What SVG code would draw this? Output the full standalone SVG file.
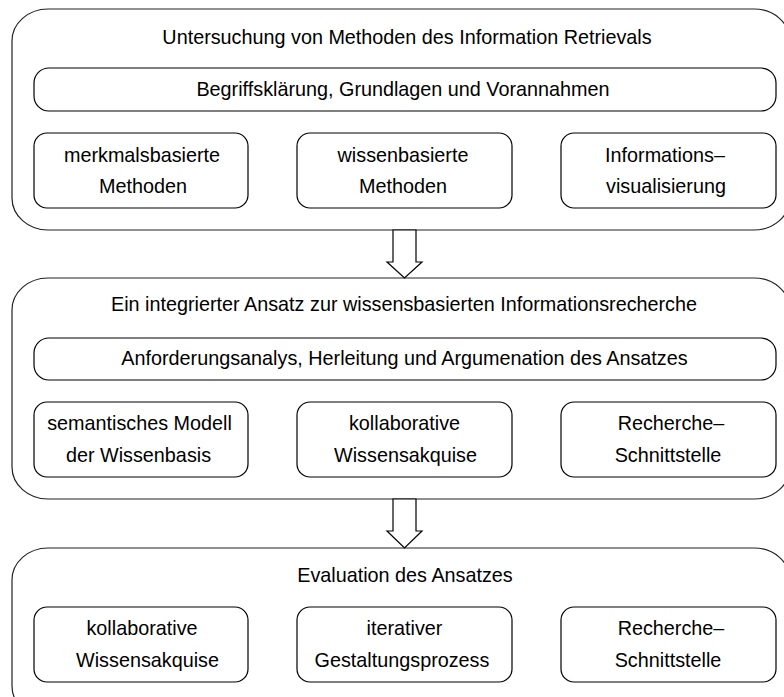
<svg xmlns="http://www.w3.org/2000/svg" width="784" height="697" viewBox="0 0 784 697">
  <style>
    .outer { fill: none; stroke: #222; stroke-width: 1.2; }
    .box { fill: none; stroke: #000; stroke-width: 1.2; }
    .arrow { fill: #fff; stroke: #000; stroke-width: 1.2; stroke-linejoin: miter; }
    text { font-family: "Liberation Sans", Arial, sans-serif; font-size: 19.8px; fill: #000; text-anchor: middle; }
  </style>

  <!-- Stage 1 -->
  <g id="stage1">
    <rect class="outer" x="12" y="9" width="778" height="221" rx="36" ry="32"/>
    <text x="407" y="44">Untersuchung von Methoden des Information Retrievals</text>
  </g>
  <g id="grundlagen">
    <rect class="box" x="34" y="68" width="742" height="43" rx="15" ry="15"/>
    <text x="403" y="96">Begriffsklärung, Grundlagen und Vorannahmen</text>
  </g>
  <g id="merkmalsbasiert">
    <rect class="box" x="34" y="133" width="214" height="75" rx="13" ry="13"/>
    <text x="142" y="161.5">merkmalsbasierte</text>
    <text x="143" y="193">Methoden</text>
  </g>
  <g id="wissenbasiert">
    <rect class="box" x="297" y="133" width="215" height="75" rx="13" ry="13"/>
    <text x="403" y="161.5">wissenbasierte</text>
    <text x="403" y="193">Methoden</text>
  </g>
  <g id="visualisierung">
    <rect class="box" x="561" y="133" width="215" height="75" rx="13" ry="13"/>
    <text x="665" y="161.5">Informations–</text>
    <text x="666" y="193">visualisierung</text>
  </g>

  <!-- Stage 2 -->
  <g id="stage2">
    <rect class="outer" x="12" y="278" width="778" height="221" rx="36" ry="32"/>
    <text x="404" y="311">Ein integrierter Ansatz zur wissensbasierten Informationsrecherche</text>
  </g>
  <g id="anforderungen">
    <rect class="box" x="34" y="338" width="742" height="42" rx="15" ry="15"/>
    <text x="404.5" y="365">Anforderungsanalys, Herleitung und Argumenation des Ansatzes</text>
  </g>
  <g id="modell">
    <rect class="box" x="34" y="402" width="214" height="75" rx="13" ry="13"/>
    <text x="139.5" y="429.5">semantisches Modell</text>
    <text x="138.5" y="462">der Wissenbasis</text>
  </g>
  <g id="akquise">
    <rect class="box" x="297" y="402" width="215" height="75" rx="13" ry="13"/>
    <text x="404.5" y="429.5">kollaborative</text>
    <text x="405.5" y="462">Wissensakquise</text>
  </g>
  <g id="schnittstelle">
    <rect class="box" x="561" y="402" width="215" height="75" rx="13" ry="13"/>
    <text x="671" y="429.5">Recherche–</text>
    <text x="668" y="462">Schnittstelle</text>
  </g>

  <!-- Stage 3 -->
  <g id="stage3">
    <rect class="outer" x="12" y="548" width="778" height="170" rx="36" ry="32"/>
    <text x="405" y="582">Evaluation des Ansatzes</text>
  </g>
  <g id="eval-akquise">
    <rect class="box" x="34" y="607" width="214" height="75" rx="13" ry="13"/>
    <text x="142" y="635">kollaborative</text>
    <text x="147.5" y="667">Wissensakquise</text>
  </g>
  <g id="gestaltung">
    <rect class="box" x="297" y="607" width="215" height="75" rx="13" ry="13"/>
    <text x="404.5" y="635">iterativer</text>
    <text x="402" y="667">Gestaltungsprozess</text>
  </g>
  <g id="eval-schnittstelle">
    <rect class="box" x="561" y="607" width="215" height="75" rx="13" ry="13"/>
    <text x="671" y="635">Recherche–</text>
    <text x="668" y="667">Schnittstelle</text>
  </g>

  <!-- Block arrows between stages -->
  <g id="connectors">
    <polygon class="arrow" points="393,230 416,230 416,262 422,262 404.5,278 387,262 393,262"/>
    <polygon class="arrow" points="393,499 416,499 416,531 422,531 404.5,548 387,531 393,531"/>
  </g>
</svg>
